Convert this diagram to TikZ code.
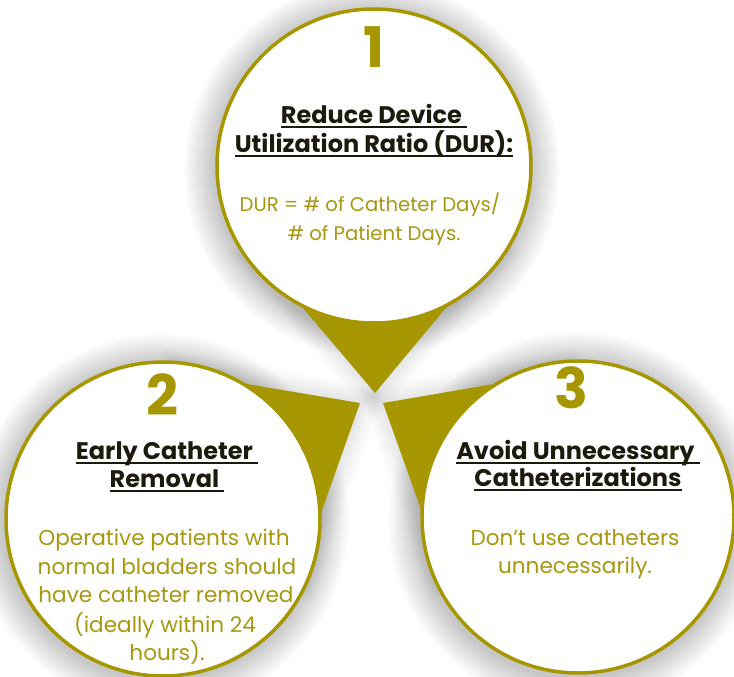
\documentclass[tikz,border=0pt]{standalone}
\usepackage{fontspec}
\setmainfont{Poppins}
\usetikzlibrary{calc}
\definecolor{olv}{RGB}{166,150,0}
\definecolor{olvtxt}{RGB}{168,152,16}
\definecolor{ttlcol}{RGB}{28,26,12}
\newcommand\myul[1]{\setbox0\hbox{#1}\rlap{\color{ttlcol}\rule[-4.5pt]{\wd0}{2pt}}\box0}
\tikzset{
  bubble/.style={circle, draw=olv, line width=3.5pt, fill=white, inner sep=0pt, outer sep=0pt},
  wedge/.style={fill=olv},
  num/.style={anchor=base, text=olv, inner sep=0pt, font=\fontsize{56}{60}\selectfont\bfseries},
  ttl/.style={anchor=base, text=ttlcol, inner sep=0pt, font=\fontsize{24}{28}\selectfont\bfseries},
  body/.style={anchor=base, text=olvtxt, inner sep=0pt, font=\fontsize{19.7}{24}\selectfont},
  bodyl/.style={anchor=base, text=olvtxt, inner sep=0pt, font=\fontsize{21.6}{26}\selectfont},
  shd/.style={fill=black, opacity=0.017}
}
\begin{document}
\begin{tikzpicture}[x=1pt,y=-1pt]
\useasboundingbox (0,0) rectangle (734,677);
\fill[white] (0,0) rectangle (734,677);
\coordinate (c1) at (374,166);
\coordinate (c2) at (163,519);
\coordinate (c3) at (578,517);
\coordinate (t1) at (375,393);
\coordinate (t2) at (360,403);
\coordinate (t3) at (383,403);
% soft shadows
\foreach \c in {c1,c2,c3}{
  \foreach \i in {1,...,14}{
    \fill[shd] ($(\c)+(-2,3)$) circle[radius={157pt+\i*2.2pt}];
  }
}
\foreach \c/\t in {c1/t1,c2/t2,c3/t3}{
  \foreach \i in {1,...,6}{
    \fill[shd] ($(\t)!-0.02*\i!(\c)$) -- ($(\t)!0.9!{40+\i}:(\c)$) -- ($(\t)!0.9!{-40-\i}:(\c)$) -- cycle;
  }
}
% wedges (pointers)
\fill[wedge] (t1) -- ($(t1)!0.9!40:(c1)$) -- ($(t1)!0.9!-40:(c1)$) -- cycle;
\fill[wedge] (t2) -- ($(t2)!0.9!40:(c2)$) -- ($(t2)!0.9!-40:(c2)$) -- cycle;
\fill[wedge] (t3) -- ($(t3)!0.9!40:(c3)$) -- ($(t3)!0.9!-40:(c3)$) -- cycle;
% bubbles
\node[bubble, minimum size=314pt] (b1) at (c1) {};
\node[bubble, minimum size=314pt] (b2) at (c2) {};
\node[bubble, minimum size=312pt] (b3) at (c3) {};
% bubble 1
\node[num] (n1) at (374,68) {1};
\node[ttl] (h1a) at (374,124) {\myul{Reduce Device\ }};
\node[ttl] (h1b) at (374,152) {\myul{Utilization Ratio (DUR):}};
\node[body] (p1a) at (370,211) {DUR = \# of Catheter Days/};
\node[body] (p1b) at (374,240) {\# of Patient Days.};
% bubble 2
\node[num] (n2) at (162,415) {2};
\node[ttl] (h2a) at (167,459) {\myul{Early Catheter\ }};
\node[ttl] (h2b) at (167,487) {\myul{Removal\ }};
\node[bodyl] (p2a) at (164,545) {Operative patients with};
\node[bodyl] (p2b) at (167,574) {normal bladders should};
\node[bodyl] (p2c) at (166,602) {have catheter removed};
\node[bodyl] (p2d) at (165,632) {(ideally within 24};
\node[bodyl] (p2e) at (167,660) {hours).};
% bubble 3
\node[num] (n3) at (571,408) {3};
\node[ttl] (h3a) at (578,459) {\myul{Avoid Unnecessary\ }};
\node[ttl] (h3b) at (578,486) {\myul{Catheterizations}};
\node[bodyl] (p3a) at (575,545) {Don{\char"27}t use catheters};
\node[bodyl] (p3b) at (575,573) {unnecessarily.};
\end{tikzpicture}
\end{document}
